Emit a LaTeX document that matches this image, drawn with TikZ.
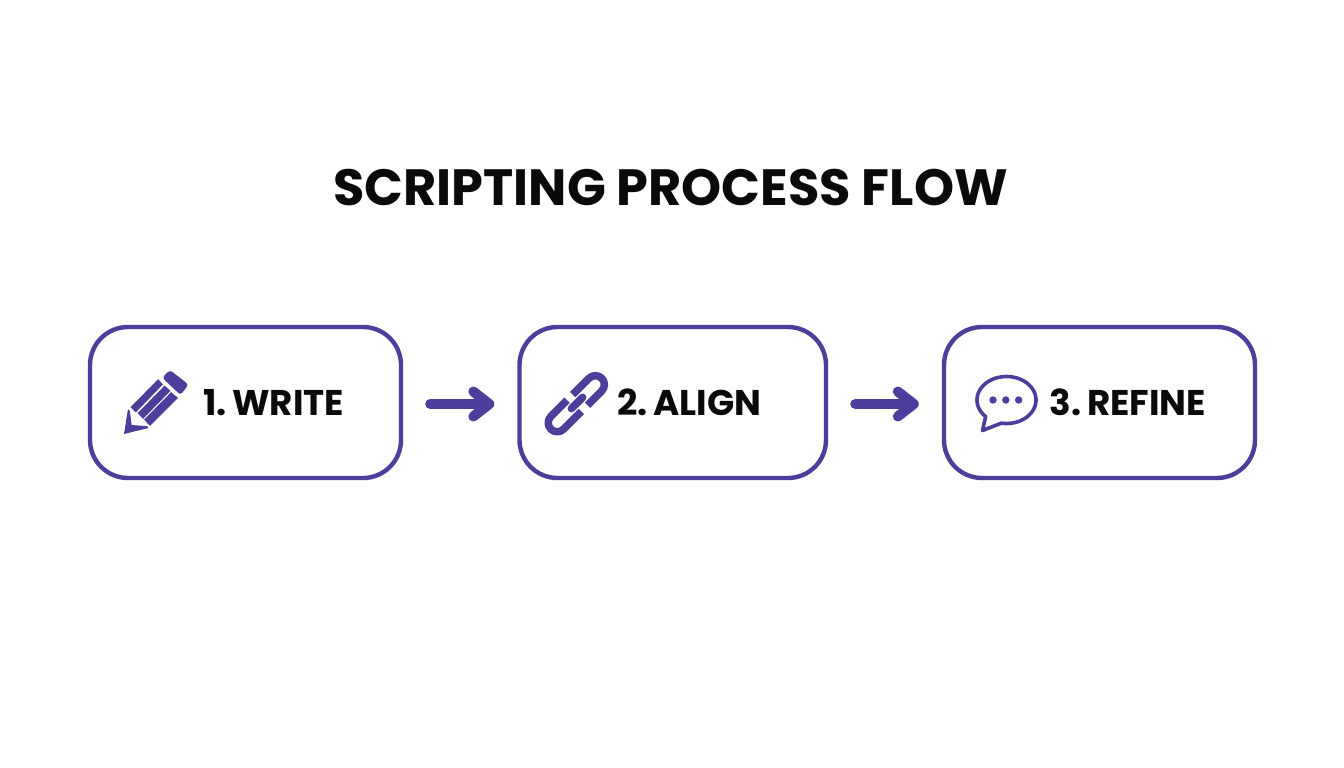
\documentclass[tikz,border=0pt]{standalone}
\usepackage{fontspec}
\setmainfont{Poppins}
\usetikzlibrary{arrows.meta}
\definecolor{brand}{HTML}{4E3D9B}
\definecolor{ink}{HTML}{0A0A0C}
\tikzset{
  stepbox/.style={draw=brand,line width=4.4pt,rounded corners=38pt,minimum height=151pt,inner sep=0pt,fill=white},
  steptext/.style={text=ink,font=\fontsize{35.7}{36}\selectfont\bfseries,inner sep=0pt,anchor=base},
  flow/.style={draw=brand,line width=10pt,line cap=round,line join=round,-{Straight Barb[length=16pt,width=25pt,line width=10pt,round]}},
  iconline/.style={draw=brand,line width=7.5pt,line join=round},
}
\begin{document}
\begin{tikzpicture}[x=1pt,y=-1pt]
\useasboundingbox (0,0) rectangle (1344,768);
\fill[white] (0,0) rectangle (1344,768);
\node[text=ink,font=\fontsize{51}{51}\selectfont\bfseries,inner sep=0pt,anchor=base] (title) at (670.5,205.5) {SCRIPTING PROCESS FLOW};

\node[stepbox,minimum width=311pt] (box1) at (245.5,402.5) {};
\node[stepbox,minimum width=306.5pt] (box2) at (672.75,402.5) {};
\node[stepbox,minimum width=311pt] (box3) at (1099.5,402.5) {};

\node[steptext] (t1) at (273.5,415) {1.\hspace{0.16em}WRITE};
\node[steptext] (t2) at (689.5,415) {2.\hspace{0.16em}ALIGN};
\node[steptext] (t3) at (1128,415) {3.\hspace{0.16em}REFINE};

\draw[flow,shorten <=27pt,shorten >=23pt] ([yshift=-1.5pt]box1.east) -- ([yshift=-1.5pt]box2.west);
\draw[flow,shorten <=27pt,shorten >=23pt] ([yshift=-1.5pt]box2.east) -- ([yshift=-1.5pt]box3.west);

% pencil
\fill[brand,rounded corners=3pt] (162.2,377.7) -- (170,370) -- (188.5,384.5) -- (180.5,395) -- cycle;
\fill[brand] (130.6,407.1) -- (158.2,379.1) -- (162.9,384.4) -- (135.9,412.4) -- cycle;
\fill[brand] (137.6,413.1) -- (164.6,385.6) -- (170.4,390.9) -- (143.1,418.9) -- cycle;
\fill[brand] (144.1,419.6) -- (171.1,392.1) -- (177.9,397.9) -- (149.9,425.9) -- cycle;
\fill[brand] (128,409) -- (124,434) -- (148.5,428) -- (147.3,426.2) -- (131.7,425) -- (129.8,411) -- cycle;

% link
\begin{scope}[shift={(577,403)},x={(0.7071pt,0.7071pt)},y={(-0.7071pt,0.7071pt)}]
\draw[iconline,rounded corners=9pt] (3,9) -- (35,9) -- (35,-9) -- (6,-9);
\draw[iconline,rounded corners=9pt] (-5,9) -- (-37,9) -- (-37,-9) -- (-3,-9);
\draw[iconline,line cap=round] (-8,0) -- (8,0);
\end{scope}

% bubble
\draw[brand,line width=3.6pt,line join=round] plot[domain=135:460,samples=70,smooth] ({1006.5+29.5*cos(\x)},{400+23.5*sin(\x)}) -- (982.5,430.5) -- cycle;
\foreach \dx in {993,1005.8,1018.7} \fill[brand] (\dx,400) circle[radius=3.7pt];
\end{tikzpicture}
\end{document}
